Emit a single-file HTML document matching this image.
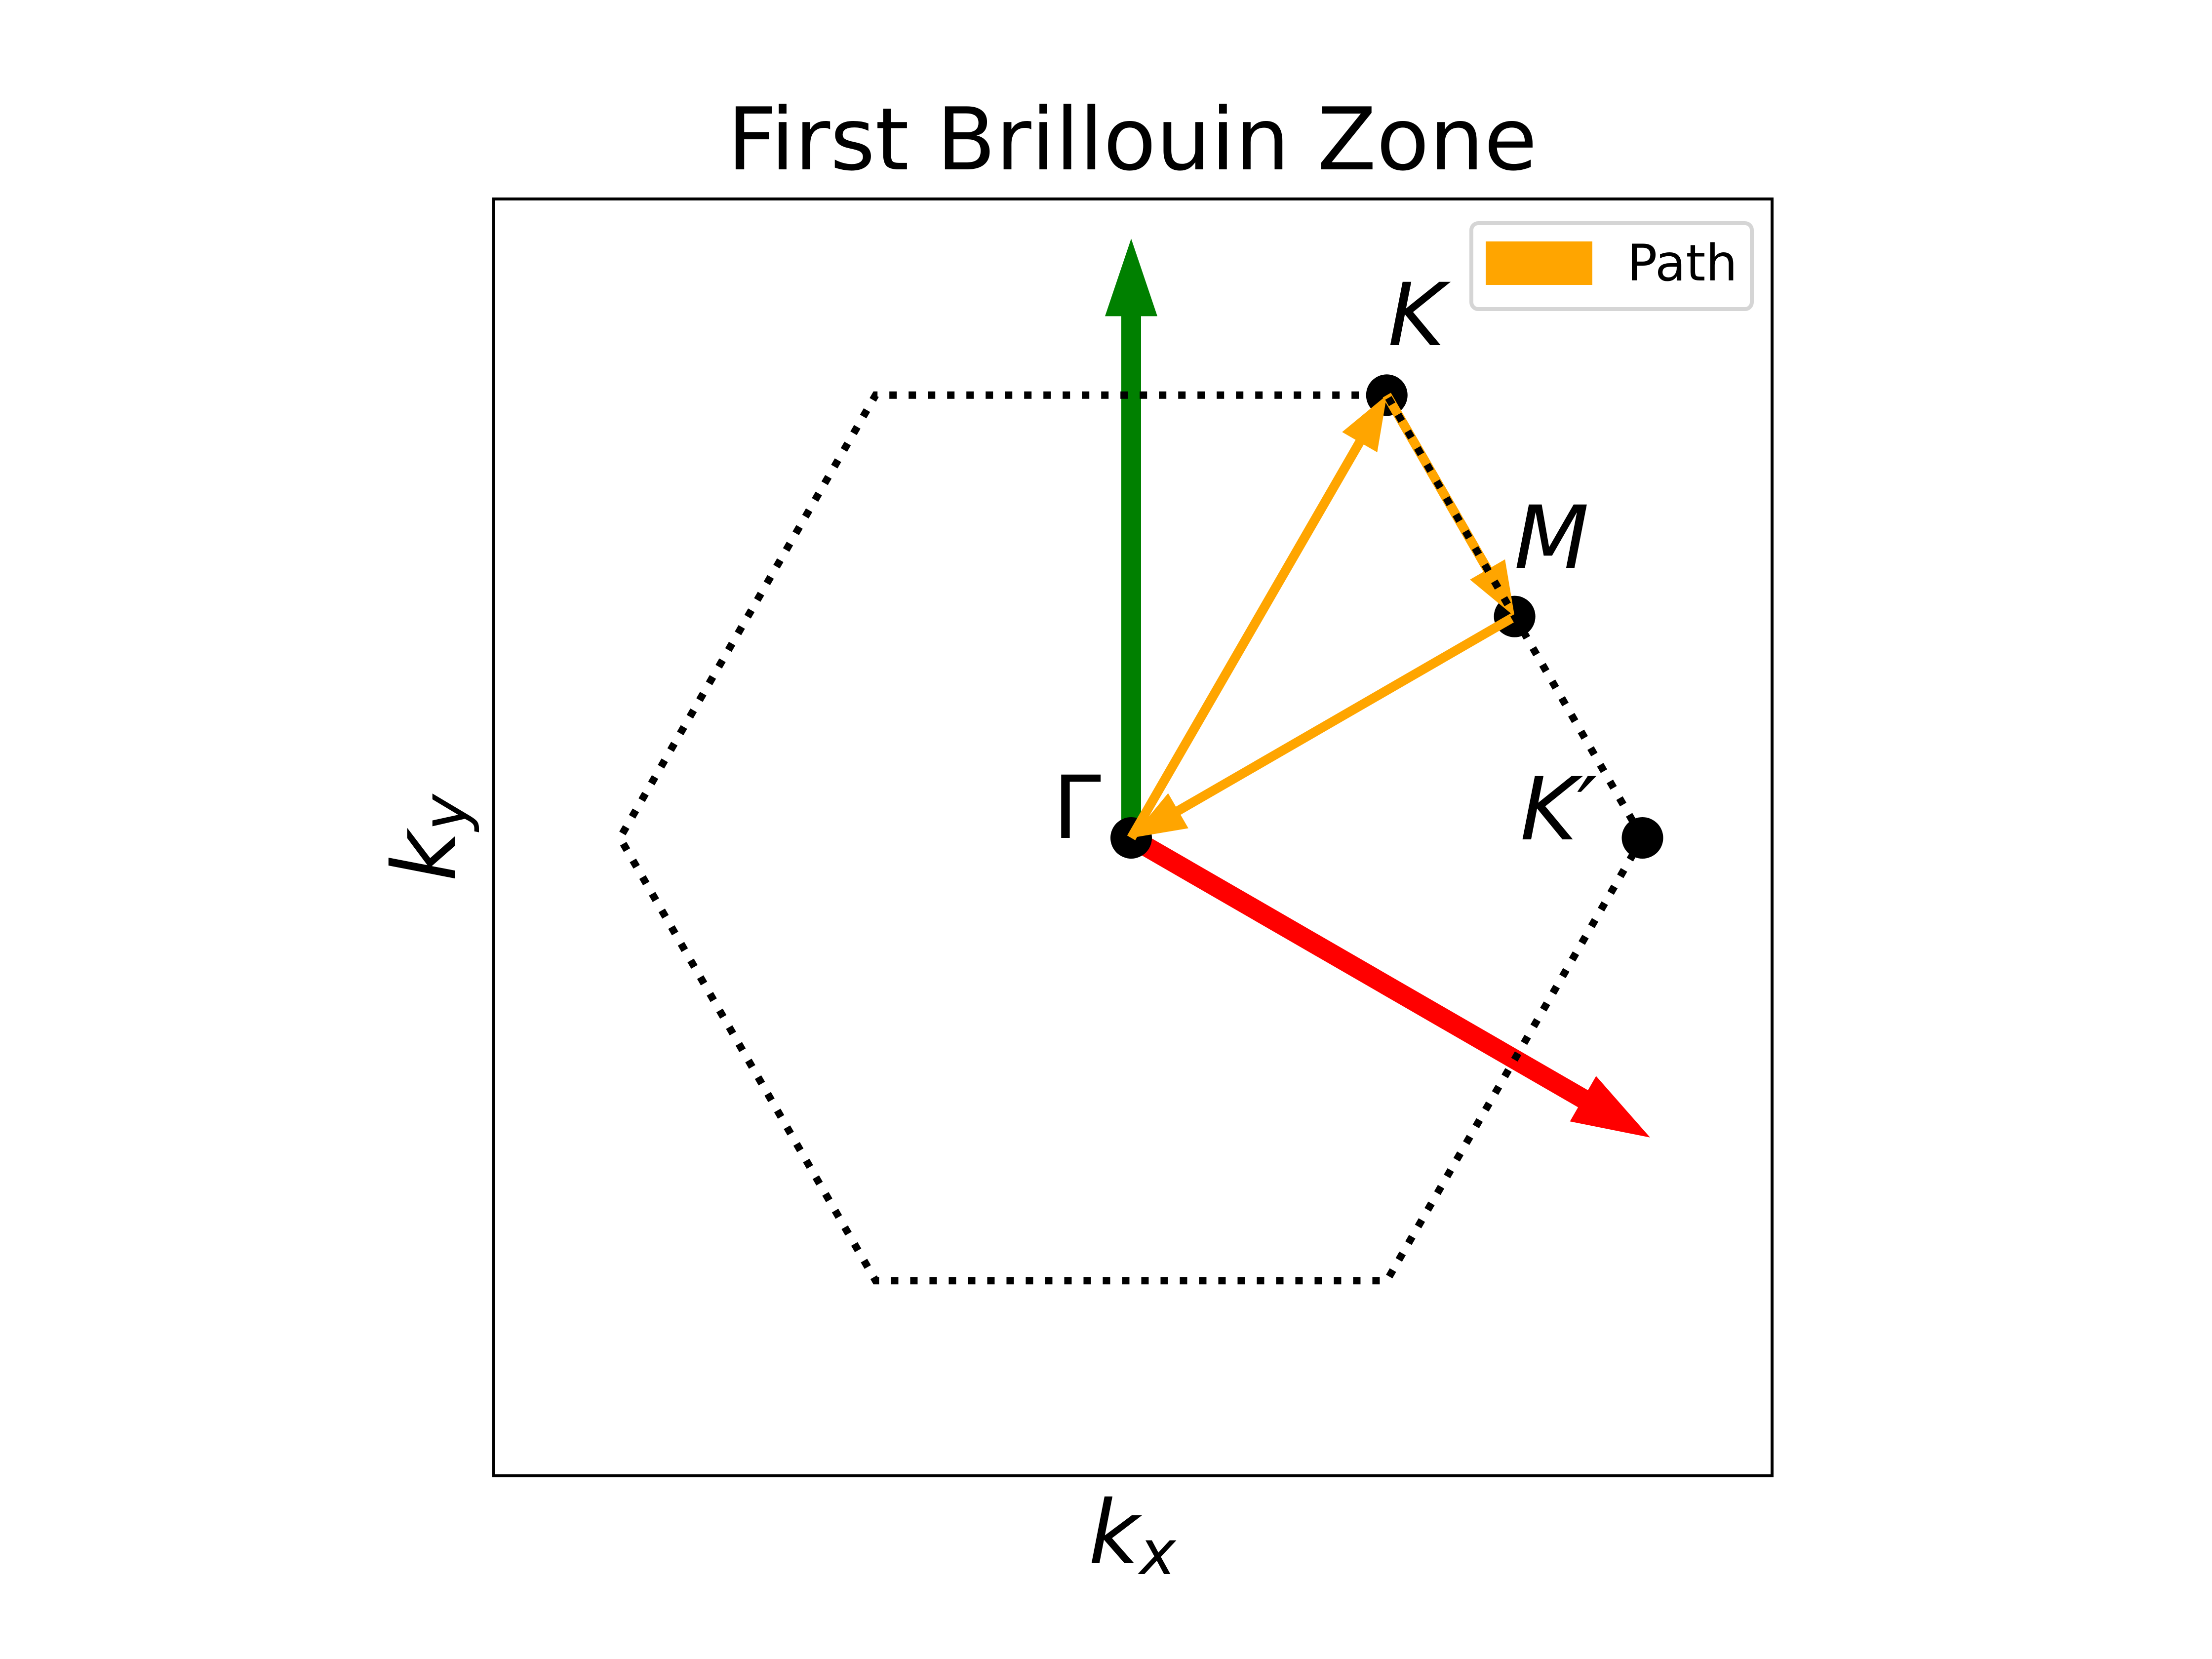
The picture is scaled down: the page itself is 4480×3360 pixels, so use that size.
<!DOCTYPE html>
<html><head><meta charset="utf-8"><style>
html,body{margin:0;padding:0;background:#fff}
svg{display:block}
text{font-family:"DejaVu Sans","Liberation Sans",sans-serif}
</style></head><body>
<svg id="chart" width="4480" height="3360" viewBox="0 0 4480 3360" xmlns="http://www.w3.org/2000/svg">
<rect width="4480" height="3360" fill="#fff"/>
<text x="2293" y="343" font-size="175" text-anchor="middle">First Brillouin Zone</text>
<g id="plot"></g>
<rect x="1000" y="403" width="2589" height="2586" fill="none" stroke="#000" stroke-width="6"/>
<text x="2293" y="3166" font-size="178" text-anchor="middle" font-style="italic">k<tspan font-size="125" dy="22">x</tspan></text>
<text transform="translate(922,1697) rotate(-90)" font-size="178" text-anchor="middle" font-style="italic">k<tspan font-size="125" dy="22">y</tspan></text>
<g>
<rect x="2980" y="452" width="568" height="174" rx="14" fill="#fff" stroke="#d5d5d5" stroke-width="8"/>
<rect x="3009" y="489" width="216" height="88" fill="#ffa500"/>
<text x="3295" y="568" font-size="102">Path</text>
</g>
</svg>
<script>
const pointNames = ["Γ","K","M","K′"];
const pointX = [0, 0.5, 0.75, 1.0];
const pointY = [0, 0.866, 0.433, 0];
const hexX = [1, 0.5, -0.5, -1, -0.5, 0.5, 1];
const hexY = [0, 0.866, 0.866, 0, -0.866, -0.866, 0];
const pathFrom = [0, 1, 2];
const pathTo = [1, 2, 0];
const vecX = [0, 1.015];
const vecY = [1.172, -0.586];
const vecColors = ["green", "red"];

const NS = "http://www.w3.org/2000/svg";
const X0 = 2291, Y0 = 1697, U = 1035.5;
const sx = v => X0 + v * U;
const sy = v => Y0 - v * U;
const plot = document.getElementById("plot");
function mk(tag, attrs, parent) {
  const e = document.createElementNS(NS, tag);
  for (const k in attrs) e.setAttribute(k, attrs[k]);
  (parent || plot).appendChild(e);
  return e;
}
function arrowPoly(x1, y1, x2, y2, w, hw, hl) {
  const dx = x2 - x1, dy = y2 - y1, L = Math.hypot(dx, dy);
  const ux = dx / L, uy = dy / L, px = -uy, py = ux;
  const bx = x2 - ux * hl, by = y2 - uy * hl;
  const p = [
    [x1 + px * w / 2, y1 + py * w / 2], [bx + px * w / 2, by + py * w / 2],
    [bx + px * hw / 2, by + py * hw / 2], [x2, y2],
    [bx - px * hw / 2, by - py * hw / 2], [bx - px * w / 2, by - py * w / 2],
    [x1 - px * w / 2, y1 - py * w / 2]];
  return p.map(q => q[0].toFixed(1) + "," + q[1].toFixed(1)).join(" ");
}
for (let i = 0; i < vecX.length; i++) {
  const a = mk("polygon", {points: arrowPoly(sx(0), sy(0), sx(vecX[i]), sy(vecY[i]), 40, 106, 157), fill: vecColors[i]});
  
  
}
for (let i = 0; i < pointNames.length; i++) {
  const c = mk("circle", {cx: sx(pointX[i]), cy: sy(pointY[i]), r: 42, fill: "#000"});
  
  
}
for (let i = 0; i < pathFrom.length; i++) {
  const f = pathFrom[i], t = pathTo[i];
  const a = mk("polygon", {points: arrowPoly(sx(pointX[f]), sy(pointY[f]), sx(pointX[t]), sy(pointY[t]), 19, 82, 110), fill: "#ffa500"});
  
  
}
const hp = hexX.map((v, i) => sx(v).toFixed(1) + "," + sy(hexY[i]).toFixed(1)).join(" ");
const hex = mk("polyline", {points: hp, fill: "none", stroke: "#000", "stroke-width": 15, "stroke-dasharray": "15 24"});


const labelDX = [-110, 60, 75, -170];
const labelY = [1697, 699, 1150, 1700];
for (let i = 0; i < pointNames.length; i++) {
  const t = mk("text", {x: sx(pointX[i]) + labelDX[i], y: labelY[i], "font-size": 176, "text-anchor": "middle", "font-style": i === 0 ? "normal" : "italic"});
  t.textContent = pointNames[i];
  
  
}
</script>
</body></html>
